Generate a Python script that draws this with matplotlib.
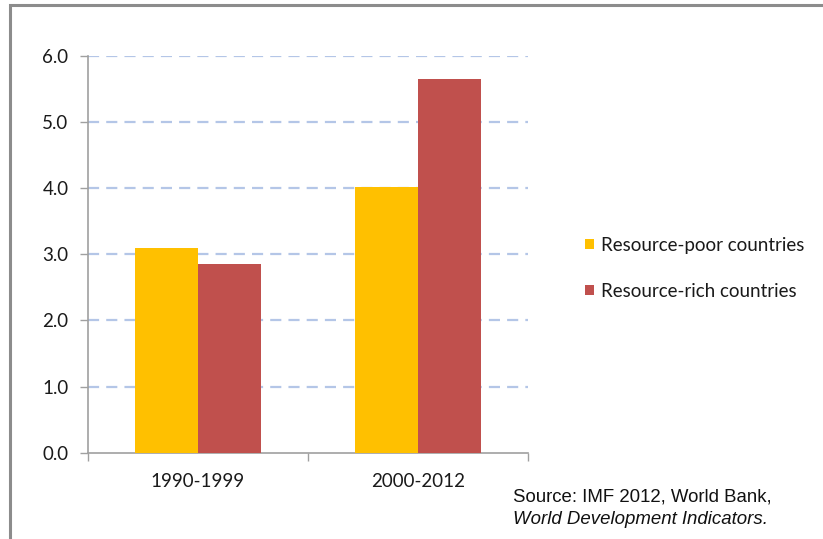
import matplotlib
matplotlib.use("Agg")
import matplotlib.pyplot as plt
import numpy as np
from matplotlib.patches import Rectangle

periods = ["1990-1999", "2000-2012"]
poor_values = [3.10, 4.02]
rich_values = [2.86, 5.65]
series_names = ["Resource-poor countries", "Resource-rich countries"]
y_ticks = [0.0, 1.0, 2.0, 3.0, 4.0, 5.0, 6.0]

W, H = 823, 539
fig = plt.figure(figsize=(W / 100, H / 100), dpi=100)
fig.patch.set_facecolor("white")

# outer frame
frame = Rectangle((10 / W, -0.05), 1.2, 1 - 5 / H + 0.05, transform=fig.transFigure,
                  fill=False, edgecolor="#8c8c8c", linewidth=2.2, zorder=0)
fig.patches.append(frame)

ax = fig.add_axes([88 / W, 1 - 452.6 / H, 440 / W, (452.6 - 56) / H])

x = np.arange(len(periods))
bw = 0.285
ax.bar(x - bw / 2, poor_values, bw, color="#FFC000", label=series_names[0], zorder=3)
ax.bar(x + bw / 2, rich_values, bw, color="#C0504D", label=series_names[1], zorder=3)

lab_font = dict(fontfamily="Lato", fontsize=13.5, color="#1a1a1a")
ax.set_xlim(-0.5, 1.5)
ax.set_ylim(0, 6)
ax.set_yticks(y_ticks)
ax.set_yticklabels([f"{v:.1f}" for v in y_ticks], **lab_font)
ax.set_xticks(x)
ax.set_xticklabels(periods, **lab_font)
ax.set_xticks([-0.5, 0.5, 1.5], minor=True)
ax.tick_params(axis="x", which="major", length=0, pad=15)
ax.tick_params(axis="x", which="minor", length=6, color="#a0a0a0", width=1)
ax.tick_params(axis="y", length=6, color="#a0a0a0", width=1, pad=8)

for v in y_ticks[1:]:
    ax.axhline(v, color="#b4c6e7", linewidth=1.6, linestyle=(0, (5, 3.2)), zorder=1)

for side in ["top", "right"]:
    ax.spines[side].set_visible(False)
for side in ["left", "bottom"]:
    ax.spines[side].set_color("#a0a0a0")
    ax.spines[side].set_linewidth(1.2)

leg = fig.legend(loc="upper left", bbox_to_anchor=(577 / W, 1 - 229 / H),
                 frameon=False, prop={"family": "Lato", "size": 13.5},
                 handlelength=0.5, handleheight=0.5, handletextpad=0.4,
                 labelspacing=1.55, borderaxespad=0)
for t in leg.get_texts():
    t.set_color("#1a1a1a")

fig.text(513 / W, 1 - 497 / H, "Source: IMF 2012, World Bank,", fontfamily="Liberation Sans",
         fontsize=13.4, va="center", ha="left", color="#111111")
fig.text(513 / W, 1 - 519 / H, "World Development Indicators.", fontfamily="Liberation Sans",
         fontsize=13.4, style="italic", va="center", ha="left", color="#111111")

fig.savefig("out.png", dpi=100, facecolor="white")
